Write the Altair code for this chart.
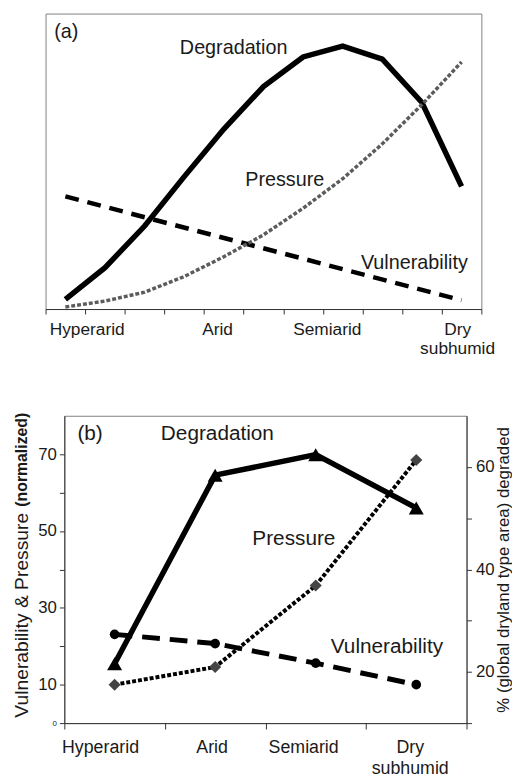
import altair as alt
import pandas as pd

# ---------------- data ----------------
# Panel (a): conceptual curves (relative units 0-100) along the aridity gradient
a_steps = [0.5, 1.5, 2.5, 3.5, 4.5, 5.5, 6.5, 7.5, 8.5, 9.5, 10.5]
a_degradation = [3.3, 14.0, 28.1, 44.8, 60.9, 75.3, 85.3, 89.0, 84.6, 69.9, 41.5]
a_pressure = [0.7, 2.7, 5.7, 11.0, 17.7, 25.1, 34.1, 44.1, 55.9, 69.2, 83.6]
a_vuln_steps = [0.5, 10.5]
a_vulnerability = [38.1, 3.0]

# Panel (b)
zones = ["Hyperarid", "Arid", "Semiarid", "Dry subhumid"]
zone_labels = ["Hyperarid", "Arid", "Semiarid", "Dry\nsubhumid"]
b_steps = [0.5, 1.5, 2.5, 3.5]
b_degradation = [21.6, 58.4, 62.4, 52.0]     # % (global dryland type area) degraded, right axis
b_vulnerability = [23.1, 20.7, 15.6, 10.0]   # normalized, left axis
b_pressure = [10.0, 14.6, 35.8, 68.5]        # normalized, left axis

# ---------------- layout / style ----------------
FONT = "Liberation Sans"
INK = "#1a1a1a"
AX = "#333333"
W_A, H_A = 441, 299
W_B, H_B = 407, 311

a_zone_x = [1.05, 4.34, 7.11, 10.4]
a_note_text = ["(a)", "Degradation", "Pressure", "Vulnerability"]
a_note_x = [0.22, 3.39, 5.04, 7.96]
a_note_y = [91.6, 86.3, 41.5, 13.4]

b_zone_x = [0.36, 1.47, 2.38, 3.44]
b_note_text = ["(b)", "Degradation", "Pressure", "Vulnerability"]
b_note_x = [0.13, 0.96, 1.87, 2.65]
b_note_y = [73.6, 73.6, 46.3, 18.3]

# ---------------- panel (a) ----------------
xa_scale = alt.Scale(domain=[0, 11], nice=False, zero=False)
ya_scale = alt.Scale(domain=[0, 100], nice=False, zero=False)
xa_axis = alt.Axis(values=list(range(12)), labels=False, title=None, tickSize=5,
                   grid=False, domainColor=AX, tickColor=AX)
xa = alt.X("x:Q", scale=xa_scale, axis=xa_axis)
ya = alt.Y("y:Q", scale=ya_scale, axis=None)

a_deg = alt.Chart(pd.DataFrame({"x": a_steps, "y": a_degradation})).mark_line(
    color="black", strokeWidth=5.5).encode(x=xa, y=ya)
a_pre = alt.Chart(pd.DataFrame({"x": a_steps, "y": a_pressure})).mark_line(
    color="#5c5c5c", strokeWidth=3.5, strokeDash=[4, 2]).encode(x=xa, y=ya)
a_vul = alt.Chart(pd.DataFrame({"x": a_vuln_steps, "y": a_vulnerability})).mark_line(
    color="black", strokeWidth=4.5, strokeDash=[14, 9]).encode(x=xa, y=ya)
a_text = alt.Chart(pd.DataFrame({"t": a_note_text, "x": a_note_x, "y": a_note_y})).mark_text(
    align="left", baseline="alphabetic", fontSize=20, color=INK).encode(x=xa, y=ya, text="t:N")
a_zone = alt.Chart(pd.DataFrame({"t": zone_labels, "x": a_zone_x})).mark_text(
    align="center", baseline="alphabetic", fontSize=17.5, lineBreak="\n", lineHeight=20,
    color=INK).encode(x=xa, y=alt.value(H_A + 26), text="t:N")

chart_a = alt.layer(a_vul, a_deg, a_pre, a_text, a_zone).properties(width=W_A, height=H_A)

# ---------------- panel (b) ----------------
xb_scale = alt.Scale(domain=[0, 4], nice=False, zero=False)
xb_axis = alt.Axis(values=[0, 1, 2, 3, 4], labels=False, title=None, tickSize=6,
                   grid=False, domainColor=AX, tickColor=AX)
xb = alt.X("x:Q", scale=xb_scale, axis=xb_axis)

yl_axis = alt.Axis(
    orient="left", values=list(range(0, 71, 10)),
    labelExpr="(datum.value == 0 || datum.value % 20 == 10) ? datum.label : ''",
    labelFontSize=alt.condition("datum.value == 0", alt.value(8), alt.value(17)),
    tickSize=5, labelPadding=3, grid=False,
    title="Vulnerability & Pressure", titleFontSize=19.5, titleFontWeight="normal",
    titleAngle=270, titleAlign="left", titleBaseline="middle", titleX=-43, titleY=305,
    domainColor=AX, tickColor=AX)
yl = alt.Y("y:Q", scale=alt.Scale(domain=[0, 80], nice=False, zero=False), axis=yl_axis)

yr_axis = alt.Axis(
    orient="right", values=list(range(10, 61, 10)),
    labelExpr="datum.value % 20 == 0 ? datum.label : ''",
    labelFontSize=17, tickSize=5, labelPadding=4, grid=False,
    title="% (global dryland type area) degraded", titleFontSize=17, titleFontWeight="normal",
    titleAngle=270, titleAlign="center", titleBaseline="middle", titleX=37, titleY=H_B / 2,
    domainColor=AX, tickColor=AX)
yr = alt.Y("y:Q", scale=alt.Scale(domain=[10, 70], nice=False, zero=False), axis=yr_axis)

b_deg_df = pd.DataFrame({"x": b_steps, "y": b_degradation, "zone": zones})
b_vul_df = pd.DataFrame({"x": b_steps, "y": b_vulnerability, "zone": zones})
b_pre_df = pd.DataFrame({"x": b_steps, "y": b_pressure, "zone": zones})

b_deg_line = alt.Chart(b_deg_df).mark_line(color="black", strokeWidth=5.5).encode(x=xb, y=yr)
b_deg_pts = alt.Chart(b_deg_df).mark_point(shape="triangle-up", filled=True, size=230,
                                           color="black", opacity=1).encode(x=xb, y=yr)
right = alt.layer(b_deg_line, b_deg_pts)

b_vul_line = alt.Chart(b_vul_df).mark_line(color="black", strokeWidth=5,
                                           strokeDash=[18, 10]).encode(x=xb, y=yl)
b_vul_pts = alt.Chart(b_vul_df).mark_point(shape="circle", filled=True, size=95,
                                           color="black", opacity=1).encode(x=xb, y=yl)
b_pre_line = alt.Chart(b_pre_df).mark_line(color="black", strokeWidth=4,
                                           strokeDash=[4, 2]).encode(x=xb, y=yl)
b_pre_pts = alt.Chart(b_pre_df).mark_point(shape="diamond", filled=True, size=150,
                                           color="#444444", opacity=1).encode(x=xb, y=yl)
b_text = alt.Chart(pd.DataFrame({"t": b_note_text, "x": b_note_x, "y": b_note_y})).mark_text(
    align="left", baseline="alphabetic", fontSize=21, color=INK).encode(x=xb, y=yl, text="t:N")
b_zone = alt.Chart(pd.DataFrame({"t": zone_labels, "x": b_zone_x})).mark_text(
    align="center", baseline="alphabetic", fontSize=18, lineBreak="\n", lineHeight=22,
    color=INK).encode(x=xb, y=alt.value(H_B + 30), text="t:N")
b_bold = alt.Chart(pd.DataFrame({"t": ["(normalized)"]})).mark_text(
    angle=270, align="left", baseline="middle", fontSize=16, fontWeight="bold",
    color=INK).encode(x=alt.value(-43), y=alt.value(92), text="t:N")

left = alt.layer(b_vul_line, b_vul_pts, b_pre_line, b_pre_pts, b_text, b_zone, b_bold)

chart_b = alt.layer(right, left).resolve_scale(y="independent").properties(width=W_B, height=H_B)


# ---------------- assemble ----------------
def spacer(w, h):
    return alt.Chart(pd.DataFrame({"s": [0]})).mark_point(opacity=0, size=1, strokeWidth=0).encode(
        x=alt.value(w / 2), y=alt.value(h / 2)).properties(
        width=w, height=h, view=alt.ViewBackground(strokeOpacity=0))


top = alt.hconcat(spacer(38, H_A), chart_a, spacing=0, bounds="flush")
bottom = alt.hconcat(spacer(57, H_B), chart_b, spacing=0, bounds="flush")

chart = alt.vconcat(top, bottom, spacing=54).properties(padding=0).configure(
    font=FONT
).configure_view(stroke="#808080", strokeWidth=1).configure_axis(
    labelColor=INK, titleColor=INK, labelFont=FONT, titleFont=FONT
).configure_text(font=FONT)

chart.save("out.html", embed_options={"renderer": "svg", "actions": False})
